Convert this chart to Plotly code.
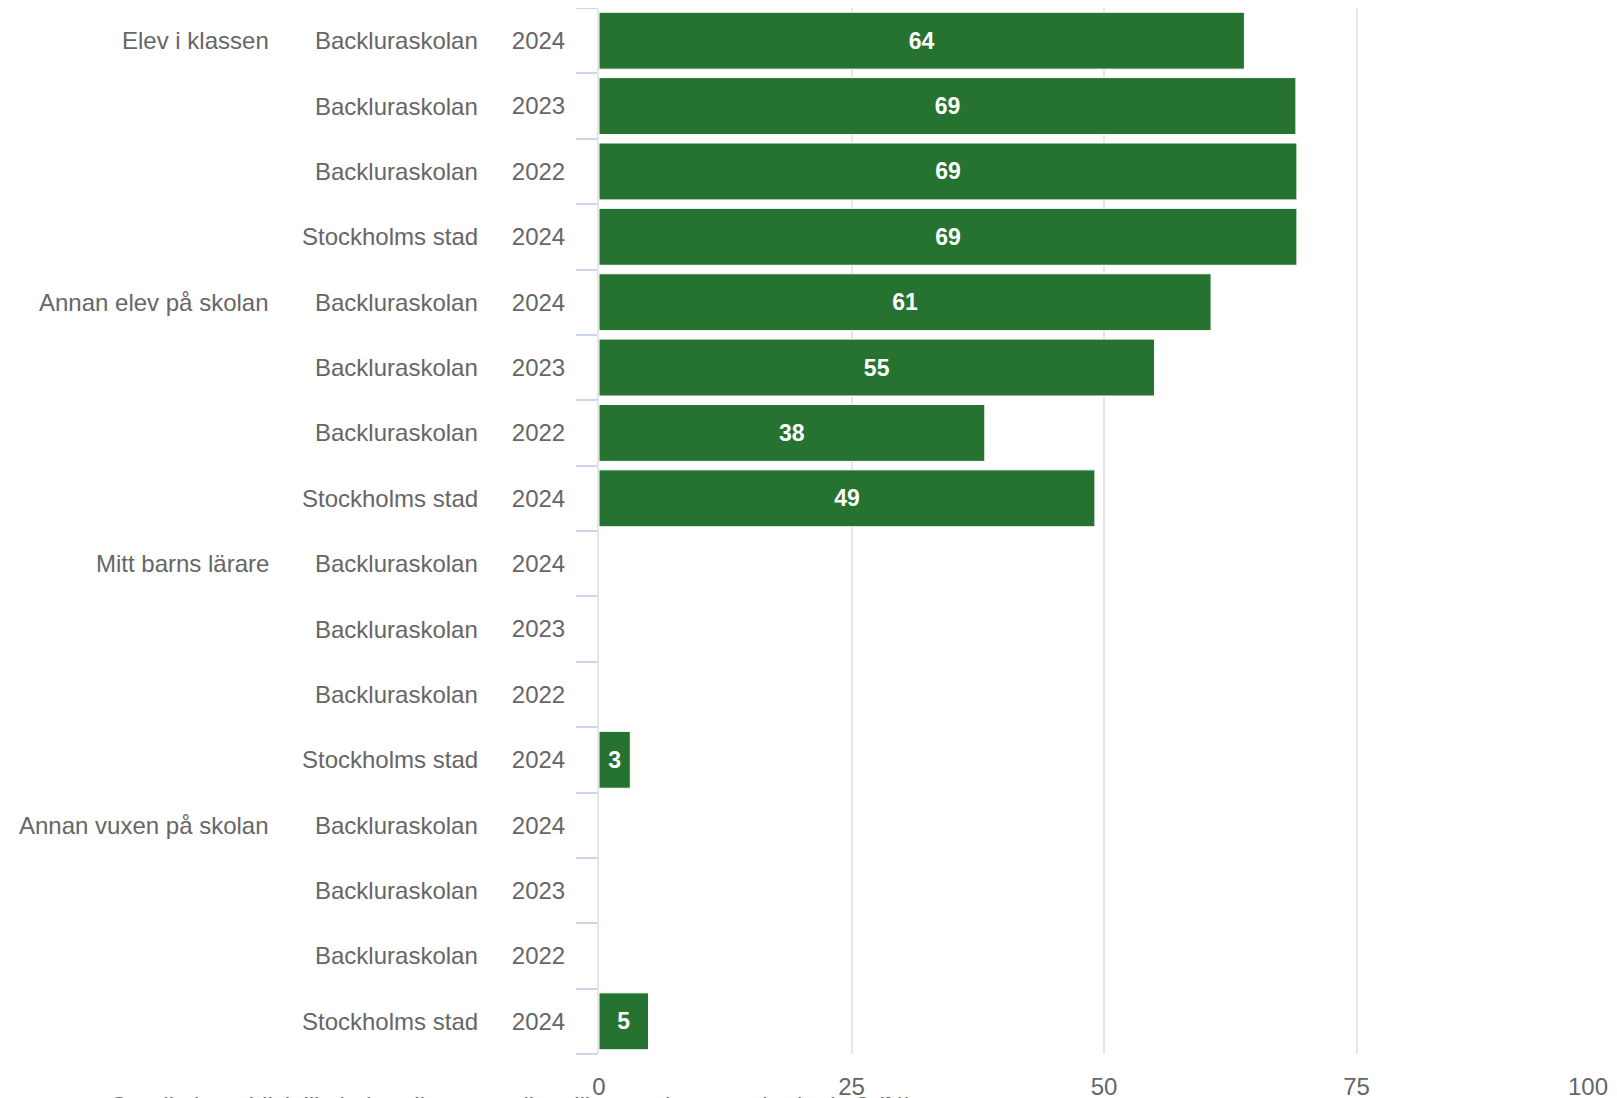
import plotly.graph_objects as go

groups = ["Elev i klassen", "Annan elev på skolan", "Mitt barns lärare", "Annan vuxen på skolan"]
units = ["Backluraskolan", "Backluraskolan", "Backluraskolan", "Stockholms stad"]
years = ["2024", "2023", "2022", "2024"]
values = [
    [63.9, 69.0, 69.1, 69.1],
    [60.6, 55.0, 38.2, 49.1],
    [None, None, None, 3.1],
    [None, None, None, 4.9],
]
x_ticks = [0, 25, 50, 75]
caption = "Om ditt barn blivit illa behandlat, vem eller vilka var det som gjorde det? (%)"

FONT = "Liberation Sans, Arial, sans-serif"
GRAY = "#666666"
GREEN = "#267230"

W, H = 1609, 1090
ML, MR, MT, MB = 591, 8, 0, 44
PW = W - ML - MR
PH = H - MT - MB

keys, xs, texts, ticktext = [], [], [], []
for gi, g in enumerate(groups):
    for ui, (u, y) in enumerate(zip(units, years)):
        k = f"{g}|{u}|{y}"
        keys.append(k)
        v = values[gi][ui]
        xs.append(v)
        texts.append("" if v is None else f"{v:.0f}")
        ticktext.append(y)

fig = go.Figure()
fig.add_trace(go.Bar(
    y=keys, x=xs, orientation="h", text=texts,
    textposition="inside", insidetextanchor="middle", constraintext="none",
    textfont=dict(family=FONT, size=23, color="white", weight="bold"),
    marker=dict(color=GREEN, line=dict(color="white", width=1)),
    hoverinfo="skip", showlegend=False,
))
# invisible trace to anchor the secondary x axis (last tick label)
fig.add_trace(go.Scatter(x=[None], y=[keys[0]], xaxis="x2", mode="lines",
                         showlegend=False, hoverinfo="skip"))

annotations = []
for gi, g in enumerate(groups):
    first_key = f"{g}|{units[0]}|{years[0]}"
    annotations.append(dict(
        x=(263 - ML) / PW, xref="paper", y=first_key, yref="y",
        text=g, showarrow=False, xanchor="right", yanchor="middle",
        font=dict(family=FONT, size=24, color=GRAY),
    ))
for k in keys:
    u = k.split("|")[1]
    annotations.append(dict(
        x=(472 - ML) / PW, xref="paper", y=k, yref="y",
        text=u, showarrow=False, xanchor="right", yanchor="middle",
        font=dict(family=FONT, size=24, color=GRAY),
    ))
annotations.append(dict(
    x=(100 - ML) / PW, xref="paper", y=(PH - 1082) / PH, yref="paper",
    text=caption, showarrow=False, xanchor="left", yanchor="top",
    font=dict(family=FONT, size=24, color=GRAY),
))

fig.update_layout(
    width=W, height=H,
    margin=dict(l=ML, r=MR, t=MT, b=MB, autoexpand=False),
    paper_bgcolor="white", plot_bgcolor="white",
    bargap=0.13,
    annotations=annotations,
    xaxis=dict(
        range=[0, 100], tickvals=x_ticks, ticktext=[str(t) for t in x_ticks],
        showgrid=True, gridcolor="#e6e6e6", gridwidth=2, zeroline=False,
        showline=False, ticks="", ticklabelstandoff=16,
        tickfont=dict(family=FONT, size=24, color=GRAY), fixedrange=True,
    ),
    xaxis2=dict(
        range=[0, 100], overlaying="x", side="bottom", anchor="y",
        tickvals=[100], ticktext=["100"], ticklabelshift=-21,
        showgrid=True, gridcolor="#e6e6e6", gridwidth=2, zeroline=False,
        showline=False, ticks="", ticklabelstandoff=16,
        tickfont=dict(family=FONT, size=24, color=GRAY),
    ),
    yaxis=dict(
        type="category", categoryorder="array", categoryarray=keys,
        range=[len(keys) - 0.5, -0.5], autorange=False,
        tickmode="array", tickvals=keys, ticktext=ticktext,
        tickson="boundaries", ticks="outside", ticklen=21, tickwidth=2,
        tickcolor="#ccd6eb", showline=True, linecolor="#e6e6e6", linewidth=2,
        showgrid=False, ticklabelstandoff=27,
        tickfont=dict(family=FONT, size=24, color=GRAY),
    ),
)

fig.write_html("out.html")
